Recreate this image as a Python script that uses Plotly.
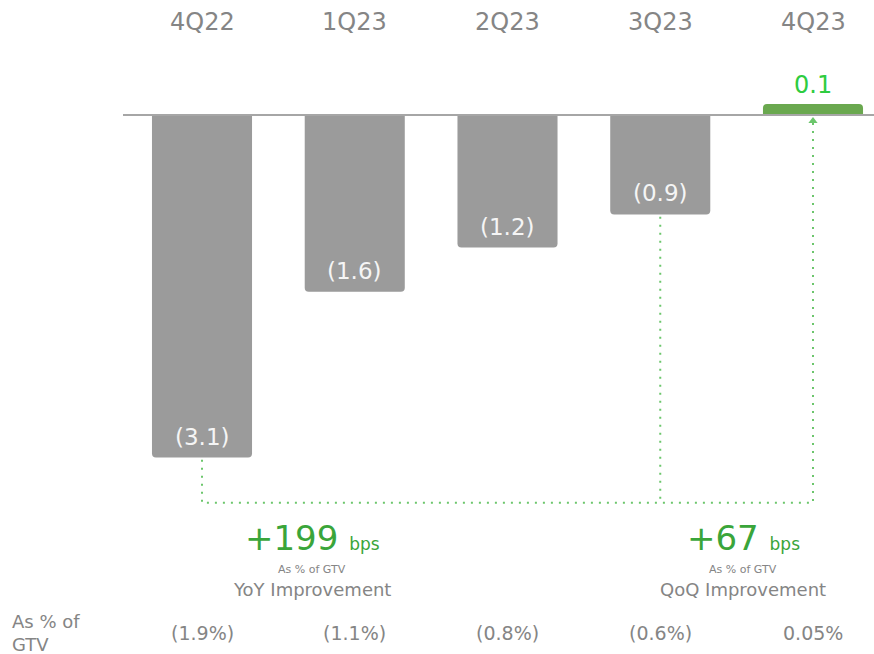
import plotly.graph_objects as go

# Quarterly adjusted EBITDA (in millions) and the same metric as % of GTV
quarters = ["4Q22", "1Q23", "2Q23", "3Q23", "4Q23"]
ebitda = [-3.1, -1.6, -1.2, -0.9, 0.1]
gtv_pct = ["(1.9%)", "(1.1%)", "(0.8%)", "(0.6%)", "0.05%"]
yoy_bps = 199
qoq_bps = 67

FONT = "DejaVu Sans"
GRAY_BAR = "#9b9b9b"
GREEN_BAR = "#6aa84f"
GREEN_TEXT = "#2ecc40"
GREEN_BIG = "#3aa53a"
GREEN_DOT = "#6cc66c"
GRAY_TEXT = "#858585"

W, H = 874, 654


def fmt(v):
    return f"({abs(v):.1f})" if v < 0 else f"{v:.1f}"


bar_colors = [GRAY_BAR if v < 0 else GREEN_BAR for v in ebitda]

fig = go.Figure()
fig.add_trace(go.Bar(
    x=quarters, y=ebitda,
    width=0.655,
    marker=dict(color=bar_colors, line=dict(width=0), cornerradius=4),
    hoverinfo="skip",
))

# Dotted connectors: YoY (4Q22 -> 4Q23) and QoQ (3Q23 -> 4Q23)
conn_y = min(ebitda) - 0.41
dot = dict(color=GREEN_DOT, width=2, dash="2px,6px")
fig.add_trace(go.Scatter(
    x=[quarters[0], quarters[0], quarters[4], quarters[4]],
    y=[ebitda[0] - 0.02, conn_y, conn_y, -0.06],
    mode="lines", line=dot, hoverinfo="skip"))
fig.add_trace(go.Scatter(
    x=[quarters[3], quarters[3]],
    y=[ebitda[3] - 0.02, conn_y],
    mode="lines", line=dot, hoverinfo="skip"))
fig.add_trace(go.Scatter(
    x=[quarters[4]], y=[-0.055],
    mode="markers",
    marker=dict(symbol="triangle-up", size=8, color=GREEN_DOT),
    hoverinfo="skip"))

# zero baseline
fig.add_shape(type="line", xref="paper", yref="y",
              x0=123 / W, x1=1, y0=0, y1=0,
              line=dict(color="#a6a6a6", width=2), layer="above")

ann = []

# value labels: inside the far end of negative bars, above positive bars
for q, v in zip(quarters, ebitda):
    if v < 0:
        ann.append(dict(x=q, y=v + 0.19, xref="x", yref="y", text=fmt(v),
                        showarrow=False, xanchor="center", yanchor="middle",
                        font=dict(family=FONT, size=23, color="#f5f5f5")))
    else:
        ann.append(dict(x=q, y=v + 0.17, xref="x", yref="y", text=fmt(v),
                        showarrow=False, xanchor="center", yanchor="middle",
                        font=dict(family=FONT, size=24, color=GREEN_TEXT)))


def label(x, y_px, text, size, color=GRAY_TEXT, xref="x", xanchor="center", align="center"):
    ann.append(dict(x=x, y=1 - y_px / H, xref=xref, yref="paper",
                    xanchor=xanchor, yanchor="middle", align=align,
                    text=text, showarrow=False,
                    font=dict(family=FONT, size=size, color=color)))


# quarter headers
for q in quarters:
    label(q, 22, q, 24)
# % of GTV row
for q, p in zip(quarters, gtv_pct):
    label(q, 633, p, 19)
label(10 / W, 633, "As % of<br>GTV", 18, xref="paper", xanchor="left", align="left")


def improvement(cx, bps, text):
    label(cx / W, 538,
          f"<span style='font-size:34px'>+{bps} </span>"
          f"<span style='font-size:17px'>bps</span>",
          17, color=GREEN_BIG, xref="paper")
    label(cx / W, 569, "As % of GTV", 11, xref="paper")
    label(cx / W, 589, text, 18, xref="paper")


improvement(312, yoy_bps, "YoY Improvement")
improvement(743, qoq_bps, "QoQ Improvement")

px_per_unit = 110.5
zero_px = 115
x0_px, step_px = 202, 152.75
fig.update_layout(
    width=W, height=H,
    margin=dict(l=0, r=0, t=0, b=0),
    paper_bgcolor="white", plot_bgcolor="white",
    showlegend=False,
    annotations=ann,
    xaxis=dict(visible=False, range=[-x0_px / step_px, (W - x0_px) / step_px]),
    yaxis=dict(visible=False, range=[-(H - zero_px) / px_per_unit, zero_px / px_per_unit]),
    font=dict(family=FONT),
)

fig.write_html("out.html")
